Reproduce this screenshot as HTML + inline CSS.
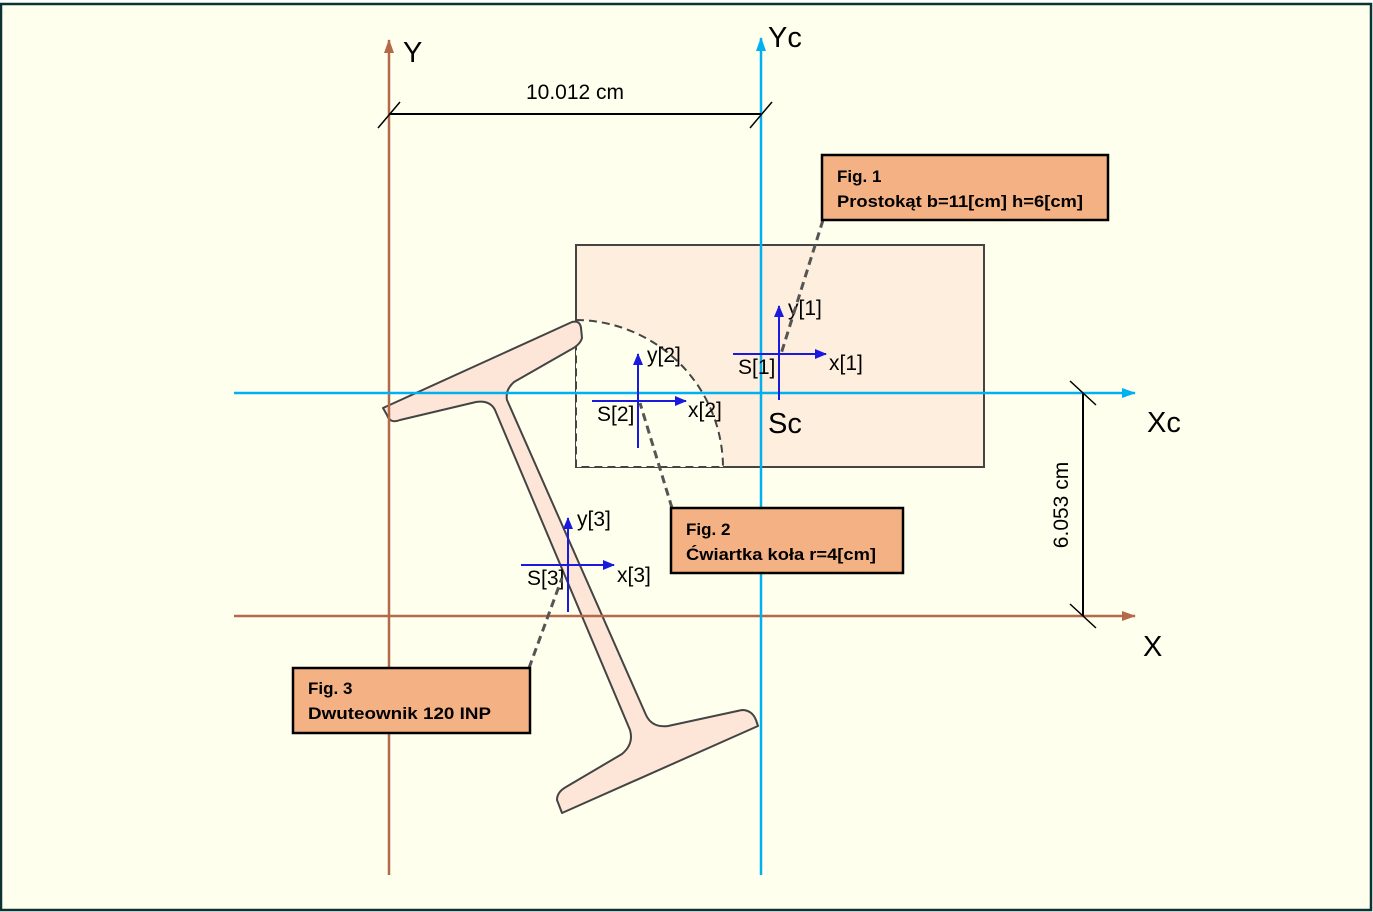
<!DOCTYPE html>
<html><head><meta charset="utf-8"><style>
html,body{margin:0;padding:0;background:#fff}
svg{display:block}
text{font-family:"Liberation Sans",sans-serif}
</style></head><body>
<svg width="1373" height="912" viewBox="0 0 1373 912" xmlns="http://www.w3.org/2000/svg">
<defs>
<marker id="ab" markerWidth="12" markerHeight="10" refX="11" refY="5" orient="auto" markerUnits="userSpaceOnUse"><path d="M0,0 L12,5 L0,10 z" fill="#1a1adf"/></marker>
<marker id="ac" markerWidth="14" markerHeight="10" refX="13" refY="5" orient="auto" markerUnits="userSpaceOnUse"><path d="M0,0 L14,5 L0,10 z" fill="#00b0f0"/></marker>
<marker id="ar" markerWidth="14" markerHeight="10" refX="13" refY="5" orient="auto" markerUnits="userSpaceOnUse"><path d="M0,0 L14,5 L0,10 z" fill="#b4694a"/></marker>
</defs>
<rect x="1" y="4" width="1370" height="906" fill="#ffffee" stroke="#0a3333" stroke-width="2.5"/>

<rect x="576" y="245" width="408" height="222" fill="#fdeedd" stroke="#444" stroke-width="2"/>
<path d="M576,320 A148,148 0 0 1 723,467 L576,467 Z" fill="#ffffee" stroke="#444" stroke-width="2" stroke-dasharray="8,5"/>

<path d="M383,408 L572,322 Q580,320 581,328 L582,338 Q580,345 570,350 L514,382 Q505,390 507,400 L646,715 Q652,728 668,726 L742,710 Q752,710 756,720 L758,726 L562,813 L557,800 Q557,792 566,787 L622,754 Q634,744 630,730 L495,410 Q490,400 476,402 L400,420 Q390,424 387,415 Z" fill="#fde6d8" stroke="#444" stroke-width="2" stroke-linejoin="round"/>

<line x1="389" y1="875" x2="389" y2="40" stroke="#b4694a" stroke-width="2.5" marker-end="url(#ar)"/>
<line x1="234" y1="616" x2="1135" y2="616" stroke="#b4694a" stroke-width="2.5" marker-end="url(#ar)"/>
<line x1="761" y1="875" x2="761" y2="38" stroke="#00b0f0" stroke-width="2.5" marker-end="url(#ac)"/>
<line x1="234" y1="393" x2="1135" y2="393" stroke="#00b0f0" stroke-width="2.5" marker-end="url(#ac)"/>
<text x="403" y="62" font-size="29">Y</text>
<text x="768" y="47" font-size="29">Yc</text>
<text x="1147" y="432" font-size="29">Xc</text>
<text x="1143" y="656" font-size="29">X</text>
<text x="768" y="433" font-size="29">Sc</text>

<line x1="389" y1="114" x2="761" y2="114" stroke="#000" stroke-width="2"/>
<line x1="378" y1="128" x2="400" y2="102" stroke="#000" stroke-width="1.5"/>
<line x1="750" y1="128" x2="772" y2="102" stroke="#000" stroke-width="1.5"/>
<text x="575" y="99" font-size="21" text-anchor="middle">10.012 cm</text>
<line x1="1083" y1="393" x2="1083" y2="616" stroke="#000" stroke-width="2"/>
<line x1="1070" y1="381" x2="1096" y2="405" stroke="#000" stroke-width="1.5"/>
<line x1="1070" y1="604" x2="1096" y2="628" stroke="#000" stroke-width="1.5"/>
<text transform="translate(1068,505) rotate(-90)" font-size="21" text-anchor="middle">6.053 cm</text>

<line x1="733" y1="354" x2="826" y2="354" stroke="#1a1adf" stroke-width="2" marker-end="url(#ab)"/>
<line x1="779" y1="400" x2="779" y2="306" stroke="#1a1adf" stroke-width="2" marker-end="url(#ab)"/>
<text x="788" y="315" font-size="21">y[1]</text>
<text x="829" y="370" font-size="21">x[1]</text>
<text x="738" y="374" font-size="21">S[1]</text>
<line x1="592" y1="401" x2="686" y2="401" stroke="#1a1adf" stroke-width="2" marker-end="url(#ab)"/>
<line x1="638" y1="448" x2="638" y2="354" stroke="#1a1adf" stroke-width="2" marker-end="url(#ab)"/>
<text x="647" y="362" font-size="21">y[2]</text>
<text x="688" y="417" font-size="21">x[2]</text>
<text x="597" y="421" font-size="21">S[2]</text>
<line x1="521" y1="565" x2="614" y2="565" stroke="#1a1adf" stroke-width="2" marker-end="url(#ab)"/>
<line x1="568" y1="612" x2="568" y2="518" stroke="#1a1adf" stroke-width="2" marker-end="url(#ab)"/>
<text x="577" y="526" font-size="21">y[3]</text>
<text x="617" y="582" font-size="21">x[3]</text>
<text x="527" y="585" font-size="21">S[3]</text>

<line x1="823" y1="220" x2="781" y2="354" stroke="#555" stroke-width="3" stroke-dasharray="8,5"/>
<line x1="672" y1="508" x2="640" y2="403" stroke="#555" stroke-width="3" stroke-dasharray="8,5"/>
<line x1="529" y1="668" x2="562" y2="578" stroke="#555" stroke-width="3" stroke-dasharray="8,5"/>

<rect x="822" y="155" width="286" height="65" fill="#f4b183" stroke="#000" stroke-width="2.5"/>
<text x="837" y="182" font-size="17" font-weight="bold">Fig. 1</text>
<text x="837" y="207" font-size="17" font-weight="bold" textLength="246" lengthAdjust="spacingAndGlyphs">Prostokąt  b=11[cm] h=6[cm]</text>
<rect x="671" y="508" width="232" height="65" fill="#f4b183" stroke="#000" stroke-width="2.5"/>
<text x="686" y="535" font-size="17" font-weight="bold">Fig. 2</text>
<text x="686" y="560" font-size="17" font-weight="bold" textLength="190" lengthAdjust="spacingAndGlyphs">Ćwiartka koła r=4[cm]</text>
<rect x="293" y="668" width="237" height="65" fill="#f4b183" stroke="#000" stroke-width="2.5"/>
<text x="308" y="694" font-size="17" font-weight="bold">Fig. 3</text>
<text x="308" y="719" font-size="17" font-weight="bold" textLength="183" lengthAdjust="spacingAndGlyphs">Dwuteownik 120 INP</text>
</svg>
</body></html>
